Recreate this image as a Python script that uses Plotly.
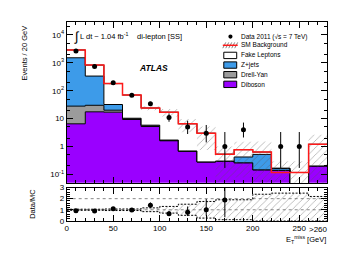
import plotly.graph_objects as go

# ---------------- data ----------------
bin_edges = [0, 20, 40, 60, 80, 100, 120, 140, 160, 180, 200, 220, 240, 260, 280]
diboson = [6.5, 17.5, 17.0, 9.3, 5.2, 1.6, 0.67, 0.28, 0.30, 0.26, 0.145, 0.14, 0.0, 0.20]
drell_yan = [21.5, 12.5, 3.0, 1.0, 0.6, 0.1, 0.02, 0, 0, 0, 0, 0, 0, 0]
z_jets = [1490, 305, 12, 0, 0, 0, 0, 0, 0, 0.16, 0.375, 0.025, 0, 0]
fake_leptons = [1380, 495, 148, 59.7, 18.2, 15.3, 5.8, 2.72, 0.23, 0.35, 0.11, -0.048, 0.117, 1.0]
sm_rel_unc = [0.05, 0.05, 0.07, 0.07, 0.17, 0.3, 0.5, 0.75, 0.9, 0.9, 1.4, 1.5, 1.5, 1.2]

data = [2650, 740, 195, 69, 34, 11, 5, 3, 1, 4, None, 1, 1, None]
data_err_up = [51, 27, 14, 8.3, 5.8, 4.4, 3.4, 2.9, 2.3, 3.2, None, 2.3, 2.3, None]
data_err_down = [51, 27, 14, 8.3, 5.8, 3.3, 2.2, 1.6, 0.83, 1.9, None, 0.83, 0.83, None]

x_ticks = [0, 50, 100, 150, 200, 250]
y_tickvals = [0.1, 1, 10, 100, 1000, 10000]
y_ticktext = ["10<sup>-1</sup>", "1", "10", "10<sup>2</sup>", "10<sup>3</sup>", "10<sup>4</sup>"]

# ---------------- derived ----------------
FLOOR = 1e-3
n = len(diboson)
centers = [(bin_edges[i] + bin_edges[i + 1]) / 2 for i in range(n)]
c1 = diboson
c2 = [a + b for a, b in zip(c1, drell_yan)]
c3 = [a + b for a, b in zip(c2, z_jets)]
total = [a + b for a, b in zip(c3, fake_leptons)]
c4 = [max(a, b) for a, b in zip(total, c3)]


def step(vals):
    xs = list(bin_edges[:-1]) + [bin_edges[-1]]
    ys = [max(v, FLOOR) for v in vals] + [max(vals[-1], FLOOR)]
    return xs, ys


PURPLE = "#9a00ff"
BLUE = "#3d9be9"
GRAY = "#9b9b9b"
RED = "#ff1a1a"
FONT = "Liberation Sans"
HATCH = dict(shape="/", fgcolor="#555555", bgcolor="rgba(0,0,0,0)", size=5, solidity=0.15)

fig = go.Figure()
# stacked components
xs, ys = step([FLOOR] * n)
fig.add_trace(go.Scatter(x=xs, y=ys, mode="lines", line=dict(width=0, shape="hv"), showlegend=False, hoverinfo="skip"))
for vals, col in [(c1, PURPLE), (c2, GRAY), (c3, BLUE), (c4, "white")]:
    xs, ys = step(vals)
    fig.add_trace(go.Scatter(x=xs, y=ys, mode="lines", line=dict(color="black", width=1, shape="hv"),
                             fill="tonexty", fillcolor=col, showlegend=False))

# SM uncertainty band (main)
up = [t * (1 + r) for t, r in zip(total, sm_rel_unc)]
lo = [t * (1 - r) for t, r in zip(total, sm_rel_unc)]
xs, ys = step(up)
fig.add_trace(go.Scatter(x=xs, y=ys, mode="lines", line=dict(width=0, shape="hv"), showlegend=False))
xs, ys = step(lo)
fig.add_trace(go.Scatter(x=xs, y=ys, mode="lines", line=dict(width=0, shape="hv"), fill="tonexty",
                         fillcolor="rgba(0,0,0,0)", fillpattern=HATCH, showlegend=False))
# total line
xs, ys = step(total)
fig.add_trace(go.Scatter(x=xs, y=ys, mode="lines", line=dict(color=RED, width=1.5, shape="hv"), showlegend=False))
# data
fig.add_trace(go.Scatter(x=centers, y=data, mode="markers", marker=dict(color="black", size=5),
                         error_y=dict(type="data", symmetric=False, array=data_err_up, arrayminus=data_err_down,
                                      color="black", thickness=1, width=0),
                         showlegend=False))

# ---------------- ratio ----------------
r_up = [1 + r for r in sm_rel_unc]
r_lo = [max(1 - r, 0) for r in sm_rel_unc]
xs = list(bin_edges[:-1]) + [bin_edges[-1]]
fig.add_trace(go.Scatter(x=xs, y=r_up + [r_up[-1]], xaxis="x2", yaxis="y2", mode="lines",
                         line=dict(color="black", width=1, dash="2px,1.5px", shape="hv"), showlegend=False))
fig.add_trace(go.Scatter(x=xs, y=r_lo + [r_lo[-1]], xaxis="x2", yaxis="y2", mode="lines",
                         line=dict(color="black", width=1, dash="2px,1.5px", shape="hv"), fill="tonexty",
                         fillcolor="rgba(0,0,0,0)", fillpattern=HATCH, showlegend=False))
ratio, rerr_u, rerr_d = [], [], []
for d, eu, ed, t in zip(data, data_err_up, data_err_down, total):
    if d is None or d / t > 3:
        ratio.append(None); rerr_u.append(None); rerr_d.append(None)
    else:
        ratio.append(d / t); rerr_u.append(eu / t); rerr_d.append(ed / t)
fig.add_trace(go.Scatter(x=centers, y=ratio, xaxis="x2", yaxis="y2", mode="markers",
                         marker=dict(color="black", size=5),
                         error_y=dict(type="data", symmetric=False, array=rerr_u, arrayminus=rerr_d,
                                      color="black", thickness=1, width=0),
                         showlegend=False))

W, H = 355, 255


def px(x):
    return x / W


def py(y):
    return 1 - y / H


axis_common = dict(showline=True, linecolor="black", linewidth=1, mirror="allticks", ticks="inside",
                   tickcolor="black", ticklen=6, tickwidth=1, showgrid=False, zeroline=False,
                   tickfont=dict(family=FONT, size=8, color="black"))

fig.update_layout(
    width=W, height=H, margin=dict(l=0, r=0, t=0, b=0),
    paper_bgcolor="white", plot_bgcolor="white",
    xaxis=dict(domain=[px(57), px(319)], range=[0, 280], anchor="y", tickvals=x_ticks, showticklabels=False,
               minor=dict(ticks="inside", ticklen=3, dtick=10, tickcolor="black"), **axis_common),
    yaxis=dict(domain=[py(177), py(10)], type="log", range=[-1.301, 4.477], anchor="x",
               tickvals=y_tickvals, ticktext=y_ticktext,
               minor=dict(ticks="inside", ticklen=3, tickcolor="black"), **axis_common),
    xaxis2=dict(domain=[px(57), px(319)], range=[0, 280], anchor="y2", matches="x", tickvals=x_ticks,
                minor=dict(ticks="inside", ticklen=3, dtick=10, tickcolor="black"), **axis_common),
    yaxis2=dict(domain=[py(216.5), py(182)], range=[0, 3], anchor="x2", tickvals=[0, 1, 2, 3],
                minor=dict(ticks="inside", ticklen=3, dtick=0.2, tickcolor="black"), **axis_common),
)

# reference lines in ratio
for yv in [1, 2]:
    fig.add_shape(type="line", xref="x2", yref="y2", x0=0, x1=280, y0=yv, y1=yv,
                  line=dict(color="#888888", width=1, dash="dot"), layer="below")

ann = []


def text(x, y, s, size=7, xanchor="left", angle=0, **kw):
    ann.append(dict(x=px(x), y=py(y), xref="paper", yref="paper", text=s, showarrow=False,
                    xanchor=xanchor, yanchor="middle", textangle=angle,
                    font=dict(family=FONT, size=size, color="black"), **kw))


text(15, 42, "Events / 20 GeV", size=7.5, xanchor="center", angle=-90)
text(23, 199, "Data/MC", size=7.5, xanchor="center", angle=-90)
text(320, 236, "E<sub>T</sub><sup>miss</sup> [GeV]", size=7.5, xanchor="right")
text(310, 225, "&gt;260", size=8, xanchor="center")
text(62, 25, "∫", size=13)
text(68, 25, "L dt ~ 1.04 fb<sup>-1</sup>", size=7.5)
text(126, 25, "di-lepton [SS]", size=7.5)
text(128, 58, "<b><i>ATLAS</i></b>", size=8.5)

# legend
text(230, 25.5, "Data 2011 (√s = 7 TeV)", size=6.5)
text(230, 34.5, "SM Background", size=6.5)
text(230, 45, "Fake Leptons", size=6.5)
text(230, 55, "Z+jets", size=6.5)
text(230, 65, "Drell-Yan", size=6.5)
text(230, 75, "Diboson", size=6.5)
fig.update_layout(annotations=ann)

fig.add_shape(type="circle", xref="paper", yref="paper", x0=px(219.6), x1=px(223.8), y0=py(27.6), y1=py(23.4),
              fillcolor="black", line=dict(color="black", width=0))
for i in range(5):
    x0 = 214 + i * 3
    fig.add_shape(type="line", xref="paper", yref="paper", x0=px(x0), x1=px(x0 + 3), y0=py(37.5), y1=py(31.5),
                  line=dict(color="#666666", width=0.8))
fig.add_shape(type="line", xref="paper", yref="paper", x0=px(214), x1=px(229), y0=py(34.5), y1=py(34.5),
              line=dict(color=RED, width=1.5))
for yc, col in [(45, "white"), (55, BLUE), (65, GRAY), (75, PURPLE)]:
    fig.add_shape(type="rect", xref="paper", yref="paper", x0=px(215), x1=px(228), y0=py(yc + 3.3), y1=py(yc - 3.3),
                  fillcolor=col, line=dict(color="black", width=1))

fig.write_html("out.html")
